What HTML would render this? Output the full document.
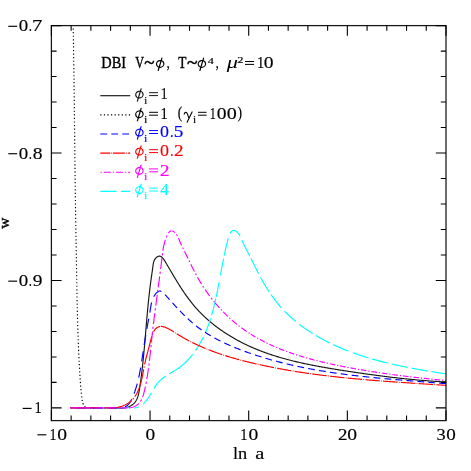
<!DOCTYPE html>
<html lang="en"><head><meta charset="utf-8"><title>w vs ln a</title>
<style>html,body{margin:0;padding:0;background:#fff}svg{display:block;will-change:transform}text{font-family:"Liberation Serif",serif}</style></head>
<body>
<svg width="471" height="471" viewBox="0 0 471 471">
<rect width="471" height="471" fill="#fff"/>
<defs><clipPath id="c"><rect x="51.40" y="25.60" width="394.60" height="395.00"/></clipPath></defs>
<g clip-path="url(#c)" fill="none" stroke-width="1.15" stroke-linejoin="round">
<path d="M70.30 407.90 L118.00 407.82 L118.92 407.99 L119.87 408.10 L120.83 408.16 L121.81 408.17 L122.79 408.13 L123.77 408.03 L124.76 407.89 L125.73 407.69 L126.70 407.45 L127.65 407.16 L128.58 406.82 L129.49 406.44 L130.37 406.01 L131.21 405.54 L132.02 405.03 L132.78 404.47 L133.49 403.87 L134.16 403.23 L134.77 402.55 L135.32 401.83 L135.83 401.08 L136.30 400.29 L136.72 399.48 L137.10 398.64 L137.45 397.77 L137.76 396.88 L138.05 395.97 L138.30 395.04 L138.53 394.10 L138.75 393.14 L138.94 392.17 L139.12 391.20 L139.29 390.22 L139.45 389.24 L139.60 388.25 L139.76 387.27 L139.91 386.29 L140.05 385.31 L140.20 384.33 L140.34 383.35 L140.48 382.38 L140.62 381.40 L140.75 380.43 L140.88 379.46 L141.01 378.49 L141.14 377.52 L141.27 376.55 L141.39 375.59 L141.52 374.62 L141.64 373.66 L141.76 372.69 L141.87 371.73 L141.99 370.77 L142.10 369.81 L142.21 368.85 L142.32 367.89 L142.43 366.93 L142.54 365.97 L142.64 365.01 L142.75 364.06 L142.85 363.10 L142.95 362.15 L143.05 361.19 L143.15 360.24 L143.24 359.28 L143.34 358.33 L143.43 357.38 L143.53 356.42 L143.62 355.47 L143.71 354.52 L143.80 353.56 L143.89 352.61 L143.98 351.66 L144.07 350.71 L144.15 349.76 L144.24 348.80 L144.33 347.85 L144.41 346.90 L144.50 345.95 L144.58 344.99 L144.66 344.04 L144.75 343.09 L144.83 342.13 L144.91 341.18 L144.99 340.23 L145.07 339.27 L145.15 338.32 L145.23 337.36 L145.31 336.40 L145.39 335.45 L145.48 334.49 L145.56 333.53 L145.64 332.57 L145.72 331.61 L145.80 330.65 L145.88 329.69 L145.96 328.73 L146.04 327.77 L146.12 326.80 L146.20 325.84 L146.29 324.87 L146.37 323.91 L146.45 322.94 L146.53 321.97 L146.62 321.00 L146.70 320.04 L146.79 319.07 L146.87 318.10 L146.96 317.13 L147.04 316.16 L147.13 315.19 L147.22 314.22 L147.31 313.25 L147.40 312.28 L147.49 311.31 L147.58 310.34 L147.67 309.37 L147.76 308.40 L147.85 307.43 L147.95 306.46 L148.04 305.49 L148.14 304.53 L148.23 303.56 L148.33 302.59 L148.43 301.63 L148.53 300.66 L148.63 299.70 L148.73 298.73 L148.83 297.77 L148.94 296.81 L149.04 295.85 L149.15 294.89 L149.26 293.93 L149.36 292.97 L149.47 292.02 L149.58 291.06 L149.70 290.11 L149.81 289.16 L149.93 288.21 L150.04 287.26 L150.16 286.31 L150.28 285.37 L150.40 284.42 L150.52 283.48 L150.65 282.54 L150.77 281.61 L150.90 280.67 L151.03 279.74 L151.16 278.81 L151.29 277.88 L151.42 276.95 L151.56 276.02 L151.69 275.09 L151.83 274.15 L151.97 273.21 L152.10 272.26 L152.24 271.30 L152.38 270.33 L152.51 269.34 L152.65 268.34 L152.78 267.32 L152.91 266.29 L153.05 265.24 L153.21 264.19 L153.40 263.16 L153.64 262.15 L153.94 261.17 L154.31 260.24 L154.77 259.37 L155.33 258.57 L155.96 257.86 L156.65 257.25 L157.38 256.75 L158.12 256.40 L158.87 256.19 L159.59 256.14 L160.28 256.27 L160.94 256.54 L161.57 256.94 L162.18 257.46 L162.77 258.09 L163.34 258.80 L163.90 259.57 L164.44 260.40 L164.98 261.27 L165.51 262.15 L166.04 263.04 L166.56 263.92 L167.08 264.81 L167.60 265.69 L168.12 266.57 L168.63 267.45 L169.15 268.32 L169.66 269.19 L170.17 270.06 L170.68 270.93 L171.19 271.80 L171.70 272.66 L172.21 273.52 L172.72 274.37 L173.23 275.23 L173.74 276.08 L174.24 276.93 L174.75 277.78 L175.26 278.62 L175.77 279.46 L176.28 280.30 L176.79 281.13 L177.30 281.96 L177.81 282.79 L178.32 283.62 L178.84 284.44 L179.35 285.26 L179.87 286.08 L180.39 286.89 L180.91 287.70 L181.43 288.51 L181.96 289.31 L182.49 290.11 L183.02 290.91 L183.55 291.71 L184.09 292.50 L184.63 293.28 L185.17 294.07 L185.71 294.85 L186.26 295.63 L186.81 296.40 L187.37 297.17 L187.93 297.94 L188.49 298.70 L189.06 299.46 L189.63 300.21 L190.21 300.97 L190.79 301.71 L191.38 302.46 L191.97 303.20 L192.56 303.94 L193.17 304.67 L193.77 305.40 L194.38 306.12 L195.00 306.84 L195.63 307.56 L196.26 308.27 L196.89 308.98 L197.53 309.69 L198.18 310.39 L198.84 311.09 L199.50 311.78 L200.16 312.47 L200.83 313.15 L201.51 313.83 L202.19 314.51 L202.88 315.18 L203.58 315.85 L204.27 316.51 L204.98 317.17 L205.69 317.82 L206.40 318.47 L207.12 319.12 L207.85 319.76 L208.58 320.40 L209.31 321.03 L210.05 321.66 L210.79 322.28 L211.54 322.90 L212.29 323.51 L213.05 324.12 L213.81 324.73 L214.58 325.33 L215.35 325.93 L216.12 326.52 L216.90 327.11 L217.68 327.69 L218.46 328.27 L219.25 328.84 L220.04 329.41 L220.84 329.97 L221.64 330.53 L222.44 331.08 L223.24 331.63 L224.05 332.18 L224.86 332.72 L225.68 333.25 L226.50 333.78 L227.32 334.30 L228.14 334.82 L228.97 335.34 L229.79 335.85 L230.62 336.35 L231.46 336.85 L232.29 337.35 L233.13 337.84 L233.97 338.32 L234.81 338.80 L235.65 339.28 L236.50 339.75 L237.35 340.21 L238.20 340.67 L239.05 341.13 L239.90 341.58 L240.76 342.02 L241.62 342.46 L242.48 342.90 L243.34 343.33 L244.20 343.76 L245.07 344.18 L245.93 344.60 L246.80 345.01 L247.67 345.42 L248.54 345.82 L249.42 346.22 L250.29 346.62 L251.17 347.01 L252.05 347.40 L252.93 347.78 L253.82 348.16 L254.70 348.53 L255.59 348.90 L256.47 349.27 L257.36 349.63 L258.25 349.99 L259.15 350.34 L260.04 350.69 L260.94 351.04 L261.83 351.38 L262.73 351.72 L263.63 352.05 L264.53 352.38 L265.43 352.71 L266.34 353.03 L267.24 353.35 L268.15 353.67 L269.06 353.98 L269.97 354.29 L270.88 354.59 L271.79 354.89 L272.71 355.19 L273.62 355.49 L274.54 355.78 L275.45 356.07 L276.37 356.35 L277.29 356.63 L278.21 356.91 L279.13 357.19 L280.06 357.46 L280.98 357.73 L281.91 358.00 L282.83 358.26 L283.76 358.52 L284.69 358.78 L285.62 359.03 L286.55 359.28 L287.48 359.53 L288.41 359.78 L289.35 360.02 L290.28 360.26 L291.21 360.50 L292.15 360.73 L293.09 360.96 L294.03 361.19 L294.96 361.42 L295.90 361.65 L296.84 361.87 L297.78 362.09 L298.73 362.31 L299.67 362.52 L300.61 362.74 L301.56 362.95 L302.50 363.16 L303.45 363.36 L304.39 363.57 L305.34 363.77 L306.29 363.97 L307.23 364.17 L308.18 364.36 L309.13 364.56 L310.08 364.75 L311.03 364.94 L311.98 365.13 L312.93 365.32 L313.88 365.50 L314.83 365.68 L315.79 365.87 L316.74 366.05 L317.69 366.22 L318.64 366.40 L319.60 366.58 L320.55 366.75 L321.51 366.92 L322.46 367.09 L323.42 367.26 L324.37 367.43 L325.33 367.60 L326.28 367.76 L327.24 367.93 L328.19 368.09 L329.15 368.25 L330.11 368.41 L331.06 368.57 L332.02 368.73 L332.97 368.89 L333.93 369.05 L334.89 369.20 L335.84 369.36 L336.80 369.51 L337.76 369.66 L338.71 369.82 L339.67 369.97 L340.63 370.12 L341.58 370.27 L342.54 370.42 L343.50 370.57 L344.45 370.72 L345.41 370.87 L346.36 371.01 L347.32 371.16 L348.27 371.31 L349.23 371.45 L350.19 371.60 L351.14 371.74 L352.09 371.89 L353.05 372.03 L354.00 372.18 L354.96 372.32 L355.91 372.46 L356.87 372.60 L357.82 372.74 L358.78 372.88 L359.73 373.02 L360.68 373.16 L361.64 373.30 L362.59 373.44 L363.54 373.58 L364.50 373.71 L365.45 373.85 L366.41 373.99 L367.36 374.12 L368.31 374.25 L369.27 374.39 L370.22 374.52 L371.17 374.65 L372.13 374.78 L373.08 374.91 L374.03 375.04 L374.99 375.17 L375.94 375.30 L376.89 375.43 L377.85 375.55 L378.80 375.68 L379.76 375.80 L380.71 375.93 L381.66 376.05 L382.62 376.17 L383.57 376.29 L384.52 376.42 L385.48 376.54 L386.43 376.65 L387.39 376.77 L388.34 376.89 L389.30 377.01 L390.25 377.12 L391.21 377.24 L392.16 377.35 L393.12 377.46 L394.07 377.57 L395.03 377.68 L395.98 377.79 L396.94 377.90 L397.89 378.01 L398.85 378.12 L399.80 378.22 L400.76 378.33 L401.72 378.43 L402.67 378.54 L403.63 378.64 L404.59 378.74 L405.55 378.84 L406.50 378.94 L407.46 379.03 L408.42 379.13 L409.38 379.23 L410.34 379.32 L411.29 379.41 L412.25 379.51 L413.21 379.60 L414.17 379.69 L415.13 379.78 L416.09 379.86 L417.05 379.95 L418.01 380.04 L418.97 380.12 L419.93 380.20 L420.90 380.28 L421.86 380.36 L422.82 380.44 L423.78 380.52 L424.75 380.60 L425.71 380.67 L426.67 380.75 L427.64 380.82 L428.60 380.89 L429.57 380.96 L430.53 381.03 L431.50 381.10 L432.46 381.17 L433.43 381.23 L434.40 381.30 L435.36 381.36 L436.33 381.42 L437.30 381.48 L438.27 381.54 L439.23 381.60 L440.20 381.66 L441.17 381.71 L442.14 381.76 L443.11 381.81 L444.09 381.87 L445.06 381.91 L446.03 381.96" stroke="#161616"/>
<path d="M73.20 25.00 C73.33 34.17 73.75 60.83 74.00 80.00 C74.25 99.17 74.47 120.00 74.70 140.00 C74.93 160.00 75.12 180.00 75.40 200.00 C75.68 220.00 76.08 241.67 76.40 260.00 C76.72 278.33 77.00 296.67 77.30 310.00 C77.60 323.33 77.93 332.18 78.20 340.00 C78.47 347.82 78.68 352.28 78.90 356.90 C79.12 361.52 79.30 364.20 79.50 367.70 C79.70 371.20 79.87 374.38 80.10 377.90 C80.33 381.42 80.58 385.28 80.90 388.80 C81.22 392.32 81.65 396.55 82.00 399.00 C82.35 401.45 82.62 402.35 83.00 403.50 C83.38 404.65 83.87 405.28 84.30 405.90 C84.73 406.52 84.98 406.87 85.60 407.20 C86.22 407.53 82.60 407.78 88.00 407.90 C93.40 408.02 113.00 407.90 118.00 407.90" stroke="#000" stroke-dasharray="1.2 2.37"/>
<path d="M72.70 407.89 L89.00 407.84M93.20 407.82 L109.50 407.77M113.70 407.75 L129.83 407.70 L130.00 407.72M134.20 407.95 L135.03 407.86 L135.97 407.70 L136.87 407.48 L137.75 407.21 L138.60 406.88 L138.70 406.84M143.10 403.99 L143.12 403.98 L143.79 403.36 L144.44 402.71 L145.07 402.03 L145.68 401.33 L146.27 400.61 L146.84 399.87 L147.40 399.11 L147.94 398.33 L148.47 397.54 L148.99 396.75 L149.49 395.94 L149.99 395.12 L150.49 394.30 L150.98 393.47 L151.40 392.74M153.90 388.50 L153.90 388.50 L154.41 387.68 L154.92 386.88 L155.44 386.09 L155.97 385.31 L156.52 384.54 L157.08 383.79 L157.66 383.05 L158.26 382.34 L158.88 381.65 L159.52 380.97 L160.18 380.33 L160.87 379.70 L161.57 379.10 L162.29 378.51 L163.03 377.94 L163.79 377.38 L164.56 376.84 L165.34 376.32 L165.80 376.02M169.20 373.92 L169.39 373.81 L170.22 373.32 L171.05 372.84 L171.88 372.35 L172.71 371.86 L173.54 371.37 L174.37 370.88 L175.19 370.37 L176.00 369.86 L176.81 369.34 L177.60 368.81 L178.39 368.26 L179.16 367.71 L179.93 367.14 L180.69 366.56 L181.43 365.97 L182.17 365.36 L182.89 364.75 L183.61 364.13 L184.31 363.49 L185.01 362.85 L185.70 362.20 L186.37 361.53 L187.04 360.86 L187.70 360.18 L188.35 359.49 L188.99 358.80 L189.62 358.09 L190.24 357.38 L190.85 356.66 L191.45 355.93 L192.04 355.20 L192.63 354.46 L192.80 354.23M195.60 350.40 L195.95 349.89 L196.48 349.11 L196.99 348.33 L197.50 347.54 L198.00 346.75 L198.49 345.95 L198.98 345.15 L199.45 344.34 L199.92 343.53 L200.38 342.72 L200.83 341.90 L201.28 341.07 L201.72 340.25 L202.15 339.42 L202.57 338.58 L202.99 337.74 L203.40 336.90 L203.50 336.69M205.40 332.52 L205.72 331.77 L206.09 330.90 L206.44 330.03 L206.80 329.16 L207.14 328.28 L207.48 327.40 L207.82 326.52 L208.15 325.64 L208.47 324.75 L208.79 323.86 L209.10 322.97 L209.41 322.07 L209.71 321.17 L210.01 320.27 L210.30 319.37 L210.59 318.47 L210.60 318.44M211.60 315.15 L211.70 314.83 L211.96 313.91 L212.22 313.00 L212.48 312.08 L212.73 311.16 L212.98 310.24 L213.22 309.32 L213.47 308.40 L213.70 307.47 L213.94 306.54 L214.17 305.62 L214.39 304.69 L214.62 303.76 L214.84 302.83 L215.06 301.90 L215.27 300.97 L215.48 300.03 L215.69 299.10 L215.80 298.61M216.20 296.77 L216.30 296.30 L216.50 295.36 L216.70 294.43 L216.89 293.49 L217.08 292.56 L217.27 291.62 L217.46 290.69 L217.65 289.75 L217.83 288.82 L218.02 287.88 L218.20 286.95 L218.38 286.01 L218.56 285.08 L218.74 284.14 L218.91 283.21 L219.09 282.28 L219.10 282.22M220.40 275.24 L220.47 274.86 L220.64 273.94 L220.81 273.02 L220.98 272.10 L221.16 271.18 L221.33 270.26 L221.50 269.34 L221.67 268.43 L221.85 267.51 L222.02 266.60 L222.20 265.68 L222.37 264.77 L222.55 263.85 L222.73 262.94 L222.91 262.03 L223.09 261.11 L223.27 260.19 L223.46 259.28 L223.60 258.56M224.20 255.65 L224.21 255.60 L224.40 254.68 L224.60 253.76 L224.80 252.83 L225.00 251.91 L225.20 250.98 L225.41 250.05 L225.62 249.12 L225.83 248.18 L226.05 247.25 L226.26 246.31 L226.49 245.37 L226.71 244.42 L226.94 243.47 L227.17 242.52 L227.41 241.57 L227.65 240.61 L227.89 239.65 L228.14 238.69 L228.30 238.07M229.90 233.62 L230.11 233.23 L230.61 232.47 L231.19 231.78 L231.84 231.19 L232.55 230.75 L233.29 230.50 L234.07 230.47 L234.86 230.67 L235.65 231.05 L236.41 231.57 L237.13 232.18 L237.80 232.84 L238.41 233.56 L238.98 234.32 L239.50 235.11 L239.99 235.94 L240.10 236.14M242.00 240.19 L242.09 240.40 L242.48 241.31 L242.87 242.22 L243.26 243.11 L243.66 244.00 L244.07 244.87 L244.48 245.73 L244.90 246.59 L245.32 247.44 L245.74 248.28 L246.17 249.12 L246.60 249.95 L247.03 250.78 L247.46 251.61 L247.89 252.43 L248.32 253.26 L248.75 254.08 L249.18 254.91 L249.60 255.74 L249.70 255.94M251.00 258.52 L251.28 259.08 L251.69 259.92 L252.10 260.76 L252.52 261.60 L252.93 262.44 L253.34 263.28 L253.76 264.12 L254.17 264.97 L254.59 265.81 L255.00 266.65 L255.42 267.50 L255.84 268.34 L256.26 269.19 L256.68 270.03 L257.10 270.87 L257.53 271.72 L257.96 272.56 L258.39 273.40 L258.60 273.79M260.50 277.38 L260.61 277.58 L261.07 278.41 L261.52 279.24 L261.99 280.07 L262.45 280.90 L262.92 281.73 L263.39 282.55 L263.87 283.37 L264.35 284.19 L264.84 285.01 L265.33 285.82 L265.82 286.63 L266.32 287.44 L266.82 288.25 L267.33 289.05 L267.84 289.85 L268.36 290.65 L268.88 291.44 L269.10 291.78M271.00 294.59 L271.00 294.59 L271.54 295.37 L272.09 296.14 L272.64 296.91 L273.20 297.68 L273.76 298.44 L274.33 299.20 L274.90 299.96 L275.48 300.71 L276.06 301.45 L276.65 302.20 L277.24 302.93 L277.84 303.67 L278.44 304.40 L279.05 305.12 L279.66 305.84 L280.28 306.55 L280.90 307.26 L281.50 307.93M284.40 311.04 L284.76 311.41 L285.42 312.09 L286.09 312.75 L286.76 313.42 L287.44 314.08 L288.12 314.73 L288.80 315.38 L289.49 316.02 L290.19 316.66 L290.89 317.30 L291.59 317.93 L292.30 318.55 L293.01 319.17 L293.73 319.79 L294.45 320.40 L295.18 321.00 L295.90 321.60M299.30 324.29 L299.61 324.53 L300.36 325.11 L301.12 325.68 L301.88 326.24 L302.64 326.80 L303.41 327.35 L304.18 327.90 L304.95 328.45 L305.73 328.99 L306.50 329.52 L307.29 330.05 L308.07 330.58 L308.86 331.10 L309.65 331.62 L310.44 332.13 L311.23 332.64 L312.03 333.15 L312.70 333.57M315.90 335.51 L316.06 335.61 L316.87 336.09 L317.68 336.56 L318.50 337.03 L319.32 337.50 L320.14 337.96 L320.96 338.42 L321.79 338.88 L322.62 339.33 L323.45 339.77 L324.28 340.22 L325.11 340.65 L325.95 341.09 L326.79 341.52 L327.63 341.95 L328.47 342.37 L329.31 342.79 L330.00 343.12M333.10 344.61 L333.57 344.82 L334.42 345.22 L335.28 345.61 L336.14 346.00 L337.00 346.39 L337.86 346.77 L338.73 347.15 L339.59 347.52 L340.46 347.89 L341.33 348.26 L342.20 348.63 L343.08 348.99 L343.95 349.35 L344.83 349.70 L345.71 350.05 L346.59 350.40 L347.47 350.74 L348.35 351.08 L348.50 351.14M352.90 352.78 L353.67 353.06 L354.57 353.38 L355.46 353.70 L356.36 354.01 L357.25 354.32 L358.15 354.62 L359.05 354.93 L359.95 355.23 L360.85 355.53 L361.75 355.82 L362.66 356.11 L363.56 356.40 L364.47 356.69 L365.37 356.97 L366.28 357.25 L367.19 357.53 L368.10 357.81 L368.40 357.90M372.10 358.98 L372.67 359.14 L373.58 359.40 L374.50 359.66 L375.41 359.92 L376.33 360.17 L377.25 360.42 L378.17 360.67 L379.09 360.91 L380.01 361.15 L380.94 361.39 L381.86 361.63 L382.78 361.87 L383.70 362.10 L384.63 362.33 L385.55 362.56 L386.48 362.79 L387.41 363.01 L388.20 363.20M391.90 364.07 L392.05 364.10 L392.97 364.31 L393.90 364.52 L394.83 364.73 L395.76 364.94 L396.69 365.14 L397.63 365.34 L398.56 365.54 L399.49 365.74 L400.42 365.94 L401.35 366.13 L402.28 366.33 L403.22 366.52 L404.15 366.71 L405.08 366.90 L406.01 367.08 L406.95 367.27 L407.80 367.44M411.60 368.17 L411.61 368.17 L412.54 368.35 L413.47 368.52 L414.41 368.69 L415.34 368.86 L416.27 369.03 L417.20 369.20 L418.14 369.37 L419.07 369.54 L420.00 369.70 L420.93 369.86 L421.86 370.03 L422.79 370.19 L423.72 370.35 L424.65 370.51 L425.58 370.67 L426.51 370.82 L427.44 370.98 L428.10 371.09M431.40 371.63 L432.08 371.74 L433.00 371.89 L433.93 372.04 L434.85 372.19 L435.78 372.33 L436.70 372.48 L437.63 372.63 L438.55 372.77 L439.47 372.92 L440.39 373.06 L441.31 373.20 L442.23 373.34 L443.15 373.49 L444.07 373.63 L444.98 373.77 L445.90 373.91 L445.90 373.91" stroke="#00ffff"/>
<path d="M70.30 407.90 L114.97 407.86 L115.74 407.82 L116.56 407.79 L117.42 407.76 L118.31 407.73 L119.22 407.68 L120.14 407.62 L121.06 407.53 L121.98 407.42 L122.89 407.26 L123.76 407.06 L124.61 406.81 L125.41 406.51 L126.16 406.14 L126.86 405.71 L127.51 405.22 L128.12 404.68 L128.68 404.09 L129.20 403.46 L129.69 402.80 L130.15 402.10 L130.58 401.37 L130.99 400.62 L131.38 399.85 L131.75 399.07 L132.11 398.28 L132.46 397.49 L132.80 396.70 L133.13 395.90 L133.46 395.10 L133.77 394.30 L134.08 393.50 L134.38 392.69 L134.68 391.89 L134.96 391.08 L135.24 390.27 L135.51 389.45 L135.77 388.64 L136.03 387.82 L136.28 387.01 L136.53 386.19 L136.77 385.36 L137.00 384.54 L137.22 383.72 L137.44 382.89 L137.66 382.06 L137.87 381.23 L138.07 380.40 L138.27 379.57 L138.47 378.74 L138.66 377.90 L138.84 377.07 L139.02 376.23 L139.20 375.39 L139.37 374.55 L139.54 373.71 L139.70 372.87 L139.86 372.03 L140.02 371.18 L140.18 370.34 L140.33 369.50 L140.48 368.65 L140.62 367.80 L140.77 366.96 L140.91 366.11 L141.05 365.26 L141.18 364.41 L141.32 363.57 L141.45 362.72 L141.59 361.87 L141.72 361.02 L141.85 360.17 L141.97 359.32 L142.10 358.47 L142.23 357.62 L142.36 356.77 L142.48 355.92 L142.61 355.06 L142.73 354.21 L142.86 353.36 L142.99 352.51 L143.11 351.66 L143.24 350.81 L143.37 349.96 L143.50 349.11 L143.63 348.27 L143.76 347.42 L143.90 346.57 L144.03 345.72 L144.17 344.87 L144.30 344.03 L144.44 343.18 L144.58 342.33 L144.71 341.49 L144.85 340.64 L144.99 339.80 L145.13 338.95 L145.28 338.11 L145.42 337.26 L145.56 336.42 L145.71 335.58 L145.85 334.73 L146.00 333.89 L146.14 333.05 L146.29 332.21 L146.44 331.36 L146.58 330.52 L146.73 329.68 L146.88 328.84 L147.03 328.00 L147.18 327.16 L147.33 326.32 L147.48 325.48 L147.64 324.64 L147.79 323.81 L147.94 322.97 L148.09 322.13 L148.25 321.29 L148.40 320.46 L148.56 319.62 L148.71 318.78 L148.86 317.95 L149.01 317.11 L149.17 316.27 L149.32 315.43 L149.47 314.59 L149.61 313.75 L149.76 312.91 L149.90 312.07 L150.05 311.22 L150.19 310.38 L150.32 309.53 L150.46 308.68 L150.59 307.83 L150.73 306.97 L150.87 306.12 L151.01 305.27 L151.18 304.41 L151.35 303.56 L151.54 302.71 L151.76 301.86 L152.00 301.02 L152.27 300.18 L152.56 299.34 L152.90 298.51 L153.26 297.68 L153.67 296.86 L154.13 296.04 L154.63 295.24 L155.16 294.46 L155.74 293.72 L156.34 293.04 L156.96 292.43 L157.60 291.91 L158.24 291.49 L158.90 291.20 L159.55 291.04 L160.19 291.03 L160.82 291.16 L161.44 291.42" stroke="#0000ff" stroke-dasharray="10.3 6.2" stroke-dashoffset="11.2"/>
<path d="M162.06 291.78 L162.68 292.24 L163.28 292.77 L163.88 293.36 L164.48 293.99 L165.08 294.64 L165.68 295.31 L166.27 295.97 L166.86 296.63 L167.46 297.29 L168.05 297.95 L168.64 298.61 L169.23 299.27 L169.82 299.93 L170.41 300.59 L171.00 301.24 L171.59 301.89 L172.18 302.54 L172.77 303.19 L173.36 303.84 L173.95 304.49 L174.54 305.13 L175.13 305.78 L175.72 306.42 L176.32 307.06 L176.91 307.69 L177.50 308.33 L178.10 308.96 L178.69 309.59 L179.29 310.22 L179.88 310.84 L180.48 311.46 L181.08 312.08 L181.69 312.70 L182.29 313.31 L182.89 313.92 L183.50 314.53 L184.11 315.14 L184.72 315.74 L185.33 316.33 L185.95 316.93 L186.56 317.52 L187.18 318.11 L187.81 318.69 L188.43 319.27 L189.06 319.85 L189.69 320.42 L190.32 320.99 L190.95 321.55 L191.59 322.11 L192.23 322.67 L192.88 323.22 L193.53 323.76 L194.18 324.31 L194.83 324.84 L195.49 325.38 L196.15 325.91 L196.82 326.43 L197.49 326.95 L198.16 327.46 L198.84 327.97 L199.52 328.48 L200.21 328.97 L200.90 329.47 L201.59 329.96 L202.28 330.44 L202.98 330.93 L203.69 331.40 L204.39 331.87 L205.10 332.34 L205.82 332.80 L206.53 333.26 L207.25 333.72 L207.97 334.17 L208.70 334.61 L209.43 335.05 L210.16 335.49 L210.89 335.92 L211.63 336.35 L212.37 336.78 L213.11 337.20 L213.86 337.61 L214.61 338.03 L215.36 338.44 L216.11 338.84 L216.87 339.24 L217.62 339.64 L218.39 340.04 L219.15 340.43 L219.91 340.81 L220.68 341.20 L221.45 341.58 L222.22 341.95 L223.00 342.33 L223.77 342.70 L224.55 343.06 L225.33 343.43 L226.11 343.78 L226.89 344.14 L227.68 344.49 L228.47 344.85 L229.25 345.19 L230.04 345.54 L230.84 345.88 L231.63 346.22 L232.42 346.55 L233.22 346.88 L234.02 347.21 L234.81 347.54 L235.61 347.86 L236.41 348.19 L237.22 348.51 L238.02 348.82 L238.82 349.14 L239.63 349.45 L240.43 349.76 L241.24 350.06 L242.05 350.37 L242.86 350.67 L243.67 350.97 L244.48 351.26 L245.29 351.56 L246.10 351.85 L246.91 352.14 L247.72 352.43 L248.53 352.72 L249.34 353.00 L250.16 353.28 L250.97 353.56 L251.78 353.84 L252.60 354.12 L253.41 354.39 L254.23 354.67 L255.04 354.94 L255.86 355.20 L256.68 355.47 L257.49 355.73 L258.31 356.00 L259.13 356.26 L259.95 356.51 L260.77 356.77 L261.59 357.02 L262.41 357.28 L263.23 357.53 L264.05 357.78 L264.87 358.02 L265.69 358.27 L266.51 358.51 L267.33 358.75 L268.16 358.99 L268.98 359.23 L269.80 359.46 L270.63 359.70 L271.45 359.93 L272.28 360.16 L273.10 360.39 L273.93 360.61 L274.75 360.84 L275.58 361.06 L276.41 361.28 L277.23 361.50 L278.06 361.72 L278.89 361.93 L279.72 362.15 L280.55 362.36 L281.38 362.57 L282.21 362.78 L283.04 362.99 L283.87 363.19 L284.70 363.40 L285.53 363.60 L286.36 363.80 L287.19 364.00 L288.02 364.20 L288.85 364.39 L289.69 364.59 L290.52 364.78 L291.35 364.97 L292.19 365.16 L293.02 365.35 L293.85 365.54 L294.69 365.72 L295.52 365.90 L296.36 366.09 L297.20 366.27 L298.03 366.45 L298.87 366.62 L299.70 366.80 L300.54 366.97 L301.38 367.15 L302.22 367.32 L303.05 367.49 L303.89 367.66 L304.73 367.82 L305.57 367.99 L306.41 368.15 L307.25 368.32 L308.09 368.48 L308.93 368.64 L309.77 368.80 L310.61 368.96 L311.45 369.11 L312.29 369.27 L313.13 369.42 L313.97 369.57 L314.81 369.72 L315.66 369.87 L316.50 370.02 L317.34 370.17 L318.18 370.31 L319.03 370.46 L319.87 370.60 L320.71 370.74 L321.56 370.89 L322.40 371.03 L323.25 371.16 L324.09 371.30 L324.93 371.44 L325.78 371.57 L326.62 371.71 L327.47 371.84 L328.32 371.97 L329.16 372.10 L330.01 372.23 L330.85 372.36 L331.70 372.49 L332.55 372.61 L333.39 372.74 L334.24 372.86 L335.09 372.98 L335.94 373.11 L336.78 373.23 L337.63 373.35 L338.48 373.46 L339.33 373.58 L340.18 373.70 L341.03 373.81 L341.88 373.93 L342.72 374.04 L343.57 374.16 L344.42 374.27 L345.27 374.38 L346.12 374.49 L346.97 374.60 L347.82 374.71 L348.67 374.81 L349.52 374.92 L350.37 375.02 L351.22 375.13 L352.08 375.23 L352.93 375.34 L353.78 375.44 L354.63 375.54 L355.48 375.64 L356.33 375.74 L357.18 375.84 L358.04 375.94 L358.89 376.03 L359.74 376.13 L360.59 376.22 L361.44 376.32 L362.30 376.41 L363.15 376.51 L364.00 376.60 L364.86 376.69 L365.71 376.78 L366.56 376.87 L367.41 376.96 L368.27 377.05 L369.12 377.14 L369.97 377.23 L370.83 377.32 L371.68 377.40 L372.54 377.49 L373.39 377.58 L374.24 377.66 L375.10 377.74 L375.95 377.83 L376.81 377.91 L377.66 377.99 L378.51 378.08 L379.37 378.16 L380.22 378.24 L381.08 378.32 L381.93 378.40 L382.79 378.48 L383.64 378.56 L384.49 378.64 L385.35 378.71 L386.20 378.79 L387.06 378.87 L387.91 378.94 L388.77 379.02 L389.62 379.10 L390.48 379.17 L391.33 379.25 L392.19 379.32 L393.04 379.40 L393.90 379.47 L394.75 379.54 L395.61 379.62 L396.46 379.69 L397.32 379.76 L398.17 379.83 L399.03 379.90 L399.88 379.98 L400.74 380.05 L401.59 380.12 L402.45 380.19 L403.30 380.26 L404.16 380.33 L405.01 380.40 L405.87 380.47 L406.72 380.54 L407.58 380.61 L408.43 380.68 L409.29 380.75 L410.14 380.81 L411.00 380.88 L411.85 380.95 L412.71 381.02 L413.56 381.09 L414.42 381.16 L415.27 381.22 L416.13 381.29 L416.98 381.36 L417.84 381.43 L418.69 381.49 L419.54 381.56 L420.40 381.63 L421.25 381.70 L422.11 381.76 L422.96 381.83 L423.82 381.90 L424.67 381.96 L425.52 382.03 L426.38 382.10 L427.23 382.17 L428.08 382.23 L428.94 382.30 L429.79 382.37 L430.64 382.43 L431.50 382.50 L432.35 382.57 L433.20 382.64 L434.06 382.70 L434.91 382.77 L435.76 382.84 L436.62 382.91 L437.47 382.98 L438.32 383.05 L439.17 383.11 L440.02 383.18 L440.88 383.25 L441.73 383.32 L442.58 383.39 L443.43 383.46 L444.28 383.53 L445.13 383.60 L445.99 383.67" stroke="#0000ff" stroke-dasharray="6.8 4.2" stroke-dashoffset="6.8"/>
<path d="M70.30 407.90 L107.99 407.73 L108.74 407.82 L109.51 407.89 L110.28 407.93 L111.05 407.95 L111.83 407.96 L112.61 407.94 L113.39 407.90 L114.18 407.84 L114.96 407.76 L115.74 407.67 L116.53 407.55 L117.31 407.41 L118.09 407.25 L118.86 407.08 L119.63 406.88 L120.39 406.67 L121.15 406.44 L121.90 406.19 L122.64 405.92 L123.38 405.63 L124.10 405.32 L124.81 405.00 L125.51 404.66 L126.20 404.30 L126.87 403.93 L127.53 403.53 L128.18 403.12 L128.81 402.70 L129.42 402.25 L130.01 401.79 L130.59 401.32 L131.15 400.82 L131.69 400.32 L132.21 399.79 L132.72 399.26 L133.20 398.70 L133.68 398.14 L134.13 397.56 L134.57 396.97 L135.00 396.36 L135.41 395.75 L135.81 395.12 L136.19 394.48 L136.56 393.82 L136.92 393.16 L137.26 392.49 L137.59 391.81 L137.91 391.12 L138.22 390.41 L138.52 389.71 L138.81 388.99 L139.08 388.26 L139.35 387.53 L139.61 386.79 L139.86 386.04 L140.09 385.29 L140.33 384.53 L140.55 383.77 L140.76 383.00 L140.97 382.23 L141.17 381.45 L141.37 380.67 L141.56 379.89 L141.74 379.10 L141.92 378.31 L142.09 377.52 L142.26 376.73 L142.43 375.93 L142.59 375.14 L142.75 374.34 L142.91 373.54 L143.06 372.75 L143.21 371.95 L143.36 371.16 L143.51 370.37 L143.66 369.58 L143.81 368.79 L143.96 368.00 L144.10 367.22 L144.25 366.45 L144.40 365.67 L144.56 364.90 L144.71 364.14 L144.87 363.38 L145.03 362.62 L145.19 361.87 L145.35 361.13 L145.52 360.40 L145.69 359.66 L145.87 358.94 L146.05 358.21 L146.23 357.49 L146.41 356.77 L146.59 356.06 L146.78 355.35 L146.97 354.63 L147.16 353.92 L147.35 353.21 L147.54 352.50 L147.73 351.78 L147.93 351.07 L148.12 350.35 L148.32 349.63 L148.52 348.91 L148.72 348.18 L148.91 347.45 L149.11 346.71 L149.31 345.97 L149.51 345.22 L149.71 344.47 L149.90 343.71 L150.10 342.94 L150.29 342.16 L150.49 341.38 L150.68 340.59 L150.88 339.79 L151.07 338.98 L151.28 338.17 L151.49 337.37 L151.71 336.57 L151.94 335.78 L152.19 335.00 L152.46 334.23 L152.74 333.48 L153.05 332.75 L153.38 332.05 L153.74 331.37 L154.13 330.71 L154.56 330.09 L155.01 329.51 L155.51 328.96 L156.04 328.45 L156.61 327.99 L157.23 327.57 L157.88 327.21 L158.56 326.91 L159.26 326.67 L159.98 326.51" stroke="#ff0000" stroke-dasharray="29 1.8 1.4 1.8" stroke-dashoffset="0.0"/>
<path d="M160.71 326.43 L161.45 326.43 L162.20 326.51 L162.94 326.64 L163.69 326.83 L164.43 327.06 L165.17 327.33 L165.90 327.61 L166.62 327.92 L167.33 328.24 L168.03 328.57 L168.73 328.92 L169.42 329.29 L170.10 329.66 L170.78 330.05 L171.45 330.44 L172.12 330.84 L172.79 331.25 L173.45 331.66 L174.12 332.08 L174.78 332.50 L175.44 332.92 L176.10 333.34 L176.76 333.76 L177.42 334.18 L178.08 334.59 L178.75 335.00 L179.42 335.40 L180.08 335.81 L180.75 336.21 L181.42 336.60 L182.10 337.00 L182.77 337.39 L183.45 337.77 L184.12 338.16 L184.80 338.54 L185.48 338.91 L186.16 339.29 L186.84 339.66 L187.53 340.03 L188.21 340.39 L188.90 340.75 L189.59 341.11 L190.28 341.47 L190.97 341.82 L191.66 342.17 L192.35 342.52 L193.05 342.86 L193.74 343.20 L194.44 343.54 L195.14 343.87 L195.83 344.21 L196.53 344.54 L197.24 344.86 L197.94 345.19 L198.64 345.51 L199.35 345.83 L200.05 346.14 L200.76 346.46 L201.47 346.77 L202.18 347.08 L202.89 347.38 L203.60 347.68 L204.31 347.98 L205.03 348.28 L205.74 348.58 L206.46 348.87 L207.17 349.16 L207.89 349.45 L208.61 349.73 L209.33 350.02 L210.05 350.30 L210.77 350.57 L211.49 350.85 L212.22 351.12 L212.94 351.39 L213.66 351.66 L214.39 351.93 L215.12 352.19 L215.85 352.46 L216.57 352.72 L217.30 352.97 L218.03 353.23 L218.76 353.48 L219.50 353.73 L220.23 353.98 L220.96 354.23 L221.70 354.47 L222.43 354.72 L223.17 354.96 L223.90 355.20 L224.64 355.43 L225.38 355.67 L226.12 355.90 L226.86 356.13 L227.60 356.36 L228.34 356.59 L229.08 356.81 L229.82 357.04 L230.56 357.26 L231.30 357.48 L232.05 357.70 L232.79 357.91 L233.54 358.13 L234.28 358.34 L235.03 358.55 L235.77 358.76 L236.52 358.97 L237.27 359.18 L238.02 359.38 L238.76 359.58 L239.51 359.79 L240.26 359.99 L241.01 360.19 L241.76 360.38 L242.51 360.58 L243.26 360.77 L244.01 360.97 L244.76 361.16 L245.52 361.35 L246.27 361.54 L247.02 361.72 L247.77 361.91 L248.53 362.09 L249.28 362.28 L250.04 362.46 L250.79 362.64 L251.54 362.82 L252.30 363.00 L253.05 363.17 L253.81 363.35 L254.56 363.53 L255.32 363.70 L256.08 363.87 L256.83 364.04 L257.59 364.22 L258.34 364.38 L259.10 364.55 L259.86 364.72 L260.61 364.89 L261.37 365.05 L262.13 365.22 L262.89 365.38 L263.64 365.54 L264.40 365.70 L265.16 365.86 L265.92 366.02 L266.68 366.18 L267.43 366.34 L268.19 366.49 L268.95 366.65 L269.71 366.80 L270.47 366.95 L271.23 367.11 L271.99 367.26 L272.75 367.41 L273.51 367.56 L274.27 367.70 L275.03 367.85 L275.79 368.00 L276.55 368.14 L277.31 368.29 L278.07 368.43 L278.83 368.57 L279.59 368.71 L280.35 368.85 L281.12 368.99 L281.88 369.13 L282.64 369.27 L283.40 369.41 L284.16 369.54 L284.93 369.68 L285.69 369.81 L286.45 369.94 L287.21 370.08 L287.98 370.21 L288.74 370.34 L289.50 370.47 L290.27 370.60 L291.03 370.72 L291.79 370.85 L292.56 370.98 L293.32 371.10 L294.09 371.23 L294.85 371.35 L295.61 371.47 L296.38 371.59 L297.14 371.71 L297.91 371.83 L298.67 371.95 L299.44 372.07 L300.20 372.19 L300.97 372.31 L301.73 372.42 L302.50 372.54 L303.27 372.65 L304.03 372.77 L304.80 372.88 L305.56 372.99 L306.33 373.10 L307.10 373.21 L307.86 373.32 L308.63 373.43 L309.40 373.54 L310.16 373.65 L310.93 373.75 L311.70 373.86 L312.46 373.97 L313.23 374.07 L314.00 374.17 L314.76 374.28 L315.53 374.38 L316.30 374.48 L317.07 374.58 L317.84 374.68 L318.60 374.78 L319.37 374.88 L320.14 374.98 L320.91 375.08 L321.68 375.17 L322.45 375.27 L323.21 375.36 L323.98 375.46 L324.75 375.55 L325.52 375.65 L326.29 375.74 L327.06 375.83 L327.83 375.92 L328.60 376.02 L329.37 376.11 L330.14 376.20 L330.91 376.28 L331.68 376.37 L332.45 376.46 L333.22 376.55 L333.98 376.63 L334.75 376.72 L335.53 376.81 L336.30 376.89 L337.07 376.98 L337.84 377.06 L338.61 377.14 L339.38 377.22 L340.15 377.31 L340.92 377.39 L341.69 377.47 L342.46 377.55 L343.23 377.63 L344.00 377.71 L344.77 377.79 L345.54 377.87 L346.31 377.94 L347.09 378.02 L347.86 378.10 L348.63 378.17 L349.40 378.25 L350.17 378.32 L350.94 378.40 L351.71 378.47 L352.49 378.55 L353.26 378.62 L354.03 378.69 L354.80 378.76 L355.57 378.84 L356.34 378.91 L357.12 378.98 L357.89 379.05 L358.66 379.12 L359.43 379.19 L360.21 379.26 L360.98 379.33 L361.75 379.39 L362.52 379.46 L363.29 379.53 L364.07 379.60 L364.84 379.66 L365.61 379.73 L366.38 379.80 L367.16 379.86 L367.93 379.93 L368.70 379.99 L369.48 380.06 L370.25 380.12 L371.02 380.18 L371.79 380.25 L372.57 380.31 L373.34 380.37 L374.11 380.43 L374.88 380.49 L375.66 380.56 L376.43 380.62 L377.20 380.68 L377.98 380.74 L378.75 380.80 L379.52 380.86 L380.30 380.92 L381.07 380.98 L381.84 381.04 L382.62 381.09 L383.39 381.15 L384.16 381.21 L384.93 381.27 L385.71 381.33 L386.48 381.38 L387.25 381.44 L388.03 381.50 L388.80 381.55 L389.57 381.61 L390.35 381.66 L391.12 381.72 L391.89 381.78 L392.67 381.83 L393.44 381.89 L394.21 381.94 L394.99 382.00 L395.76 382.05 L396.53 382.10 L397.31 382.16 L398.08 382.21 L398.85 382.26 L399.63 382.32 L400.40 382.37 L401.17 382.42 L401.95 382.48 L402.72 382.53 L403.49 382.58 L404.27 382.63 L405.04 382.69 L405.81 382.74 L406.59 382.79 L407.36 382.84 L408.13 382.89 L408.91 382.94 L409.68 383.00 L410.45 383.05 L411.23 383.10 L412.00 383.15 L412.77 383.20 L413.54 383.25 L414.32 383.30 L415.09 383.35 L415.86 383.40 L416.64 383.45 L417.41 383.50 L418.18 383.55 L418.95 383.60 L419.73 383.65 L420.50 383.70 L421.27 383.75 L422.05 383.80 L422.82 383.85 L423.59 383.90 L424.36 383.95 L425.14 384.00 L425.91 384.05 L426.68 384.10 L427.45 384.15 L428.23 384.20 L429.00 384.25 L429.77 384.30 L430.54 384.35 L431.31 384.40 L432.09 384.45 L432.86 384.50 L433.63 384.55 L434.40 384.60 L435.17 384.65 L435.95 384.70 L436.72 384.75 L437.49 384.80 L438.26 384.85 L439.03 384.90 L439.80 384.95 L440.58 385.00 L441.35 385.05 L442.12 385.10 L442.89 385.15 L443.66 385.20 L444.43 385.25 L445.20 385.30 L445.97 385.35" stroke="#ff0000" stroke-dasharray="14.6 1.2 0.8 1.2" stroke-dashoffset="0.0"/>
<path d="M70.30 407.90 L127.62 407.92" stroke="#ff00ff" stroke-dasharray="8.4 1.2 1.4 1.2" stroke-dashoffset="0.0"/>
<path d="M128.91 407.86 L130.13 407.72 L131.28 407.52 L132.37 407.26 L133.40 406.94 L134.36 406.56 L135.26 406.12 L136.11 405.64 L136.91 405.10 L137.65 404.52 L138.34 403.89 L138.99 403.21 L139.59 402.50 L140.16 401.75 L140.68 400.96 L141.16 400.15 L141.61 399.30 L142.03 398.42 L142.42 397.52 L142.78 396.60 L143.12 395.65 L143.43 394.69 L143.72 393.71 L143.99 392.72 L144.25 391.72 L144.50 390.72 L144.73 389.70 L144.95 388.69 L145.17 387.67 L145.38 386.66 L145.59 385.64 L145.79 384.63 L145.99 383.62 L146.19 382.60 L146.37 381.59 L146.56 380.58 L146.74 379.57 L146.91 378.56 L147.08 377.55 L147.25 376.54 L147.41 375.54 L147.57 374.53 L147.73 373.52 L147.88 372.51 L148.03 371.51 L148.17 370.50 L148.31 369.50 L148.45 368.49 L148.59 367.49 L148.72 366.49 L148.85 365.48 L148.98 364.48 L149.11 363.48 L149.23 362.47 L149.35 361.47 L149.47 360.47 L149.59 359.47 L149.70 358.47 L149.82 357.46 L149.93 356.46 L150.04 355.46 L150.15 354.46 L150.25 353.46 L150.36 352.46 L150.47 351.46 L150.57 350.46 L150.68 349.46 L150.78 348.46 L150.88 347.46 L150.99 346.46 L151.09 345.45 L151.19 344.45 L151.29 343.45 L151.40 342.45 L151.50 341.45 L151.60 340.45 L151.71 339.45 L151.81 338.45 L151.92 337.45 L152.03 336.44 L152.13 335.44 L152.24 334.44 L152.35 333.44 L152.46 332.43 L152.58 331.43 L152.69 330.43 L152.80 329.42 L152.92 328.42 L153.04 327.42 L153.15 326.41 L153.27 325.41 L153.39 324.40 L153.51 323.40 L153.63 322.39 L153.76 321.39 L153.88 320.38 L154.00 319.38 L154.13 318.37 L154.26 317.37 L154.38 316.36 L154.51 315.35 L154.64 314.35 L154.77 313.34 L154.89 312.34 L155.02 311.33 L155.15 310.32 L155.29 309.32 L155.42 308.31 L155.55 307.30 L155.68 306.30 L155.81 305.29 L155.95 304.28 L156.08 303.28 L156.21 302.27 L156.35 301.26 L156.48 300.26 L156.62 299.25 L156.75 298.24 L156.89 297.24 L157.02 296.23 L157.16 295.23 L157.29 294.22 L157.43 293.21 L157.56 292.21 L157.70 291.20 L157.83 290.19 L157.97 289.19 L158.10 288.18 L158.24 287.18 L158.37 286.17 L158.51 285.17 L158.64 284.16 L158.78 283.16 L158.91 282.15 L159.04 281.15 L159.18 280.14 L159.31 279.14 L159.44 278.14 L159.57 277.13 L159.70 276.13 L159.84 275.12 L159.97 274.12 L160.10 273.12 L160.23 272.12 L160.35 271.11 L160.48 270.11 L160.61 269.11 L160.74 268.11 L160.86 267.11 L160.99 266.11 L161.11 265.11 L161.24 264.11 L161.36 263.11 L161.48 262.11 L161.60 261.11 L161.72 260.11 L161.84 259.11 L161.96 258.11 L162.08 257.12 L162.19 256.12 L162.31 255.12 L162.44 254.13 L162.56 253.13 L162.69 252.13 L162.83 251.14 L162.98 250.14 L163.14 249.14 L163.31 248.14 L163.50 247.15 L163.69 246.15 L163.91 245.15 L164.14 244.15 L164.39 243.15 L164.66 242.15 L164.95 241.15 L165.26 240.15 L165.60 239.15 L165.97 238.14 L166.36 237.14 L166.78 236.14 L167.23 235.15 L167.71 234.20 L168.23 233.33 L168.79 232.55 L169.39 231.89 L170.03 231.38 L170.72 231.04 L171.45 230.91" stroke="#ff00ff" stroke-dasharray="11 2.6 2.3 2.6" stroke-dashoffset="0.0"/>
<path d="M172.24 230.99 L173.05 231.29 L173.87 231.75 L174.66 232.35 L175.40 233.05 L176.06 233.83 L176.67 234.68 L177.22 235.58 L177.73 236.52 L178.20 237.50 L178.64 238.50 L179.07 239.51 L179.48 240.53 L179.90 241.54 L180.32 242.53 L180.75 243.50 L181.18 244.46 L181.62 245.41 L182.06 246.34 L182.50 247.27 L182.95 248.18 L183.39 249.09 L183.84 249.99 L184.29 250.89 L184.73 251.79 L185.18 252.69 L185.62 253.58 L186.06 254.48 L186.49 255.38 L186.93 256.28 L187.37 257.17 L187.80 258.07 L188.23 258.97 L188.66 259.86 L189.10 260.76 L189.53 261.66 L189.96 262.55 L190.40 263.45 L190.84 264.34 L191.27 265.24 L191.71 266.13 L192.15 267.02 L192.60 267.92 L193.04 268.81 L193.49 269.70 L193.95 270.59 L194.40 271.48 L194.86 272.36 L195.33 273.25 L195.80 274.13 L196.27 275.01 L196.75 275.90 L197.23 276.77 L197.72 277.65 L198.22 278.53 L198.72 279.40 L199.23 280.28 L199.75 281.15 L200.27 282.01 L200.79 282.88 L201.32 283.74 L201.86 284.61 L202.40 285.46 L202.95 286.32 L203.51 287.18 L204.07 288.03 L204.63 288.88 L205.20 289.72 L205.78 290.57 L206.36 291.41 L206.95 292.24 L207.54 293.08 L208.14 293.91 L208.74 294.74 L209.35 295.56 L209.96 296.38 L210.58 297.20 L211.21 298.01 L211.84 298.82 L212.47 299.63 L213.11 300.43 L213.76 301.23 L214.41 302.02" stroke="#ff00ff" stroke-dasharray="8 2.4 1.7 2.4" stroke-dashoffset="4.8"/>
<path d="M215.06 302.81 L215.72 303.60 L216.38 304.38 L217.05 305.16 L217.73 305.93 L218.40 306.70 L219.09 307.47 L219.78 308.23 L220.47 308.98 L221.17 309.73 L221.87 310.48 L222.57 311.22 L223.28 311.95 L224.00 312.68 L224.72 313.41 L225.44 314.13 L226.17 314.84 L226.91 315.55 L227.64 316.26 L228.38 316.95 L229.13 317.65 L229.88 318.33 L230.63 319.01 L231.39 319.69 L232.15 320.36 L232.92 321.02 L233.69 321.68 L234.46 322.33 L235.24 322.97 L236.02 323.61 L236.81 324.24 L237.60 324.87 L238.39 325.49 L239.19 326.10 L239.99 326.71 L240.80 327.31 L241.61 327.91 L242.42 328.50 L243.23 329.08 L244.05 329.66 L244.87 330.23 L245.70 330.80 L246.53 331.37 L247.36 331.92 L248.20 332.47 L249.04 333.02 L249.88 333.56" stroke="#ff00ff" stroke-dasharray="6.6 2.1 1.3 2.1" stroke-dashoffset="0.0"/>
<path d="M250.73 334.09 L251.58 334.62 L252.43 335.15 L253.29 335.67 L254.14 336.18 L255.01 336.69 L255.87 337.19 L256.74 337.69 L257.61 338.18 L258.49 338.67 L259.36 339.16 L260.24 339.63 L261.12 340.11 L262.01 340.58 L262.90 341.04 L263.79 341.50 L264.68 341.95 L265.58 342.40 L266.48 342.85 L267.38 343.29 L268.29 343.72 L269.19 344.15 L270.10 344.58 L271.01 345.00 L271.93 345.42 L272.84 345.83 L273.76 346.24 L274.68 346.64 L275.61 347.04 L276.53 347.44 L277.46 347.83 L278.39 348.22 L279.33 348.60 L280.26 348.98 L281.20 349.35 L282.14 349.72 L283.08 350.09 L284.02 350.45 L284.96 350.81 L285.91 351.17 L286.86 351.52 L287.81 351.87 L288.76 352.21 L289.72 352.55 L290.67 352.89 L291.63 353.22 L292.59 353.55 L293.55 353.87 L294.51 354.19 L295.47 354.51 L296.44 354.83 L297.41 355.14 L298.37 355.45 L299.34 355.75 L300.32 356.05 L301.29 356.35 L302.26 356.65 L303.24 356.94 L304.21 357.23 L305.19 357.51 L306.17 357.80 L307.15 358.08 L308.13 358.35 L309.11 358.63 L310.09 358.90 L311.08 359.17 L312.06 359.43 L313.05 359.69 L314.04 359.95 L315.02 360.21 L316.01 360.46 L317.00 360.71 L317.99 360.96 L318.98 361.21 L319.98 361.45 L320.97 361.70 L321.96 361.93 L322.95 362.17 L323.95 362.41 L324.94 362.64 L325.94 362.87 L326.93 363.10 L327.93 363.32 L328.93 363.54 L329.92 363.76 L330.92 363.98 L331.92 364.20 L332.91 364.41 L333.91 364.63 L334.91 364.84 L335.91 365.05 L336.90 365.26 L337.90 365.46 L338.90 365.66 L339.90 365.87 L340.90 366.07 L341.90 366.26 L342.89 366.46 L343.89 366.66 L344.89 366.85 L345.89 367.04 L346.88 367.23 L347.88 367.42 L348.88 367.61 L349.87 367.80 L350.87 367.98 L351.87 368.17 L352.86 368.35 L353.86 368.53 L354.85 368.71 L355.85 368.89 L356.85 369.06 L357.84 369.24 L358.84 369.41 L359.83 369.59 L360.83 369.76 L361.82 369.93 L362.82 370.10 L363.81 370.26 L364.81 370.43 L365.80 370.59 L366.80 370.76 L367.79 370.92 L368.78 371.08 L369.78 371.24 L370.77 371.40 L371.77 371.56 L372.76 371.71 L373.76 371.87 L374.75 372.02 L375.75 372.17 L376.74 372.32 L377.74 372.47 L378.73 372.62 L379.73 372.77 L380.72 372.92 L381.72 373.06 L382.71 373.21 L383.71 373.35 L384.71 373.49 L385.70 373.64 L386.70 373.78 L387.69 373.91 L388.69 374.05 L389.69 374.19 L390.68 374.33 L391.68 374.46 L392.68 374.60 L393.67 374.73 L394.67 374.86 L395.67 374.99 L396.67 375.12 L397.66 375.25 L398.66 375.38 L399.66 375.51 L400.66 375.63 L401.66 375.76 L402.66 375.88 L403.66 376.01 L404.66 376.13 L405.66 376.25 L406.66 376.38 L407.66 376.50 L408.66 376.62 L409.66 376.73 L410.67 376.85 L411.67 376.97 L412.67 377.09 L413.67 377.20 L414.68 377.32 L415.68 377.43 L416.69 377.54 L417.69 377.66 L418.70 377.77 L419.70 377.88 L420.71 377.99 L421.72 378.10 L422.72 378.21 L423.73 378.32 L424.74 378.43 L425.75 378.53 L426.76 378.64 L427.77 378.75 L428.78 378.85 L429.79 378.96 L430.80 379.06 L431.81 379.16 L432.82 379.27 L433.83 379.37 L434.85 379.47 L435.86 379.57 L436.88 379.67 L437.89 379.77 L438.91 379.87 L439.92 379.97 L440.94 380.07 L441.96 380.17 L442.98 380.27 L444.00 380.37 L445.02 380.46 L446.04 380.56" stroke="#ff00ff" stroke-dasharray="5.6 1.9 1.2 1.9" stroke-dashoffset="0.0"/>
</g>
<rect x="51.40" y="25.60" width="394.60" height="395.00" fill="none" stroke="#161616" stroke-width="1.25"/>
<path d="M51.40 420.60V410.40M51.40 25.60V35.80M71.13 420.60V415.40M71.13 25.60V30.80M90.86 420.60V415.40M90.86 25.60V30.80M110.59 420.60V415.40M110.59 25.60V30.80M130.32 420.60V415.40M130.32 25.60V30.80M150.05 420.60V410.40M150.05 25.60V35.80M169.78 420.60V415.40M169.78 25.60V30.80M189.51 420.60V415.40M189.51 25.60V30.80M209.24 420.60V415.40M209.24 25.60V30.80M228.97 420.60V415.40M228.97 25.60V30.80M248.70 420.60V410.40M248.70 25.60V35.80M268.43 420.60V415.40M268.43 25.60V30.80M288.16 420.60V415.40M288.16 25.60V30.80M307.89 420.60V415.40M307.89 25.60V30.80M327.62 420.60V415.40M327.62 25.60V30.80M347.35 420.60V410.40M347.35 25.60V35.80M367.08 420.60V415.40M367.08 25.60V30.80M386.81 420.60V415.40M386.81 25.60V30.80M406.54 420.60V415.40M406.54 25.60V30.80M426.27 420.60V415.40M426.27 25.60V30.80M446.00 420.60V410.40M446.00 25.60V35.80M51.40 407.90H61.60M446.00 407.90H435.80M51.40 382.41H56.60M446.00 382.41H440.80M51.40 356.93H56.60M446.00 356.93H440.80M51.40 331.44H56.60M446.00 331.44H440.80M51.40 305.95H56.60M446.00 305.95H440.80M51.40 280.47H61.60M446.00 280.47H435.80M51.40 254.98H56.60M446.00 254.98H440.80M51.40 229.49H56.60M446.00 229.49H440.80M51.40 204.01H56.60M446.00 204.01H440.80M51.40 178.52H56.60M446.00 178.52H440.80M51.40 153.03H61.60M446.00 153.03H435.80M51.40 127.55H56.60M446.00 127.55H440.80M51.40 102.06H56.60M446.00 102.06H440.80M51.40 76.57H56.60M446.00 76.57H440.80M51.40 51.09H56.60M446.00 51.09H440.80M51.40 25.60H61.60M446.00 25.60H435.80" stroke="#000" stroke-width="1.10" fill="none"/>
<g font-family="'Liberation Serif', serif">
<path d="M8.30 26.30H17.20" stroke="#000" stroke-width="1.15" fill="none"/>
<text transform="translate(18.68 31.20) scale(1.110 1.000)" font-size="17.00" fill="#000" stroke="#000" stroke-width="0.15">0</text>
<text transform="translate(28.86 31.20) scale(0.747 1.000)" font-size="17.00" fill="#000" stroke="#000" stroke-width="0.15">.</text>
<text transform="translate(32.05 31.20) scale(1.205 1.000)" font-size="17.00" fill="#000" stroke="#000" stroke-width="0.15">7</text>
<path d="M8.30 153.73H17.20" stroke="#000" stroke-width="1.15" fill="none"/>
<text transform="translate(18.68 158.63) scale(1.110 1.000)" font-size="17.00" fill="#000" stroke="#000" stroke-width="0.15">0</text>
<text transform="translate(28.86 158.63) scale(0.747 1.000)" font-size="17.00" fill="#000" stroke="#000" stroke-width="0.15">.</text>
<text transform="translate(32.65 158.63) scale(1.152 1.000)" font-size="17.00" fill="#000" stroke="#000" stroke-width="0.15">8</text>
<path d="M8.30 281.17H17.20" stroke="#000" stroke-width="1.15" fill="none"/>
<text transform="translate(18.68 286.07) scale(1.110 1.000)" font-size="17.00" fill="#000" stroke="#000" stroke-width="0.15">0</text>
<text transform="translate(28.86 286.07) scale(0.747 1.000)" font-size="17.00" fill="#000" stroke="#000" stroke-width="0.15">.</text>
<text transform="translate(32.77 286.07) scale(1.144 1.000)" font-size="17.00" fill="#000" stroke="#000" stroke-width="0.15">9</text>
<path d="M22.70 408.40H31.60" stroke="#000" stroke-width="1.15" fill="none"/>
<text transform="translate(34.43 413.40) scale(0.852 1.000)" font-size="17.00" fill="#000" stroke="#000" stroke-width="0.15">1</text>
<path d="M37.40 434.80H46.30" stroke="#000" stroke-width="1.15" fill="none"/>
<text transform="translate(49.38 439.60) scale(0.819 1.000)" font-size="17.00" fill="#000" stroke="#000" stroke-width="0.15">1</text>
<text transform="translate(57.25 439.60) scale(1.152 1.000)" font-size="17.00" fill="#000" stroke="#000" stroke-width="0.15">0</text>
<text transform="translate(145.56 439.60) scale(1.138 1.000)" font-size="17.00" fill="#000" stroke="#000" stroke-width="0.15">0</text>
<text transform="translate(240.33 439.60) scale(0.852 1.000)" font-size="17.00" fill="#000" stroke="#000" stroke-width="0.15">1</text>
<text transform="translate(248.45 439.60) scale(1.152 1.000)" font-size="17.00" fill="#000" stroke="#000" stroke-width="0.15">0</text>
<text transform="translate(337.97 439.60) scale(1.115 1.000)" font-size="17.00" fill="#000" stroke="#000" stroke-width="0.15">2</text>
<text transform="translate(347.15 439.60) scale(1.152 1.000)" font-size="17.00" fill="#000" stroke="#000" stroke-width="0.15">0</text>
<text transform="translate(436.62 439.60) scale(1.082 1.000)" font-size="17.00" fill="#000" stroke="#000" stroke-width="0.15">3</text>
<text transform="translate(446.17 439.60) scale(1.124 1.000)" font-size="17.00" fill="#000" stroke="#000" stroke-width="0.15">0</text>
<text transform="translate(233.03 458.60) scale(1.077 1.000)" font-size="17.00" fill="#000" stroke="#000" stroke-width="0.15">ln</text>
<text transform="translate(255.18 458.60) scale(1.206 1.000)" font-size="17.00" fill="#000" stroke="#000" stroke-width="0.15">a</text>
<text transform="translate(9.1 228.71) rotate(-90) scale(0.984 1)" font-size="15.6" stroke="#000" stroke-width="0.40">w</text>
<text transform="translate(101.28 67.80) scale(0.868 1.000)" font-size="16.60" fill="#000" stroke="#000" stroke-width="0.40">DBI</text>
<text transform="translate(135.36 67.80) scale(0.732 1.000)" font-size="16.60" fill="#000" stroke="#000" stroke-width="0.40">V</text>
<text transform="translate(144.17 69.00) scale(1.055 1.000)" font-size="18.00" fill="#000" stroke="#000" stroke-width="0.50">~</text>
<g fill="none" stroke="#000" stroke-width="1.20" stroke-linecap="round"><ellipse cx="160.20" cy="63.95" rx="3.7" ry="3.35" transform="rotate(-12 160.20 63.95)"/><path d="M161.90 58.10L158.20 70.50"/></g>
<text transform="translate(166.49 67.80) scale(0.809 1.000)" font-size="16.60" fill="#000" stroke="#000" stroke-width="0.15">,</text>
<text transform="translate(178.36 67.80) scale(0.805 1.000)" font-size="16.60" fill="#000" stroke="#000" stroke-width="0.40">T</text>
<text transform="translate(186.95 69.00) scale(1.090 1.000)" font-size="18.00" fill="#000" stroke="#000" stroke-width="0.50">~</text>
<g fill="none" stroke="#000" stroke-width="1.20" stroke-linecap="round"><ellipse cx="201.90" cy="63.95" rx="3.7" ry="3.35" transform="rotate(-12 201.90 63.95)"/><path d="M203.60 58.10L199.90 70.50"/></g>
<text transform="translate(207.76 64.10) scale(1.393 1.000)" font-size="8.80" fill="#000" stroke="#000" stroke-width="0.15">4</text>
<text transform="translate(215.49 67.50) scale(0.809 1.000)" font-size="16.60" fill="#000" stroke="#000" stroke-width="0.15">,</text>
<text transform="translate(226.82 67.80) scale(1.388 1.000)" font-size="16.10" fill="#000" font-style="italic">μ</text>
<text transform="translate(237.35 63.10) scale(1.417 1.000)" font-size="8.80" fill="#000" stroke="#000" stroke-width="0.15">2</text>
<path d="M245.00 61.50H254.10" stroke="#000" stroke-width="1.00" fill="none"/>
<path d="M245.00 64.40H254.10" stroke="#000" stroke-width="1.00" fill="none"/>
<text transform="translate(256.93 67.80) scale(0.852 1.000)" font-size="17.00" fill="#000" stroke="#000" stroke-width="0.15">1</text>
<text transform="translate(263.85 67.80) scale(1.152 1.000)" font-size="17.00" fill="#000" stroke="#000" stroke-width="0.15">0</text>
<path d="M100.3 95.70H130.2" stroke="#161616" stroke-width="1.15" fill="none"/>
<g fill="none" stroke="#161616" stroke-width="1.20" stroke-linecap="round"><ellipse cx="139.40" cy="94.65" rx="3.7" ry="3.35" transform="rotate(-12 139.40 94.65)"/><path d="M141.10 88.80L137.40 101.20"/></g>
<text transform="translate(144.04 103.70) scale(1.089 1.000)" font-size="11.20" fill="#161616" stroke="#161616" stroke-width="0.15">i</text>
<path d="M149.10 92.70H158.00" stroke="#161616" stroke-width="1.00" fill="none"/>
<path d="M149.10 95.60H158.00" stroke="#161616" stroke-width="1.00" fill="none"/>
<text transform="translate(160.43 99.30) scale(0.852 1.000)" font-size="17.00" fill="#161616" stroke="#161616" stroke-width="0.15">1</text>
<path d="M100.3 114.84H130.2" stroke="#000" stroke-width="1.15" stroke-dasharray="1.2 2.37" fill="none"/>
<g fill="none" stroke="#000" stroke-width="1.20" stroke-linecap="round"><ellipse cx="139.40" cy="114.25" rx="3.7" ry="3.35" transform="rotate(-12 139.40 114.25)"/><path d="M141.10 108.40L137.40 120.80"/></g>
<text transform="translate(144.04 123.30) scale(1.089 1.000)" font-size="11.20" fill="#000" stroke="#000" stroke-width="0.15">i</text>
<path d="M149.10 112.30H158.00" stroke="#000" stroke-width="1.00" fill="none"/>
<path d="M149.10 115.20H158.00" stroke="#000" stroke-width="1.00" fill="none"/>
<text transform="translate(160.43 118.90) scale(0.852 1.000)" font-size="17.00" fill="#000" stroke="#000" stroke-width="0.15">1</text>
<text transform="translate(177.70 118.30) scale(0.811 1.000)" font-size="16.80" fill="#000" stroke="#000" stroke-width="0.15">(</text>
<path fill="none" stroke="#000" stroke-width="1.10" stroke-linecap="round" stroke-linejoin="round" d="M192.10 111.90L187.10 122.20M184.20 114.10C184.60 112.70 185.70 111.80 186.60 112.70C187.50 113.70 188.30 116.30 188.90 118.10"/>
<text transform="translate(192.96 123.30) scale(1.014 1.000)" font-size="11.20" fill="#000" stroke="#000" stroke-width="0.15">i</text>
<path d="M198.00 112.30H206.60" stroke="#000" stroke-width="1.00" fill="none"/>
<path d="M198.00 115.20H206.60" stroke="#000" stroke-width="1.00" fill="none"/>
<text transform="translate(209.83 118.90) scale(0.718 1.000)" font-size="17.00" fill="#000" stroke="#000" stroke-width="0.15">1</text>
<text transform="translate(216.75 118.90) scale(1.152 1.000)" font-size="17.00" fill="#000" stroke="#000" stroke-width="0.15">0</text>
<text transform="translate(226.64 118.90) scale(1.180 1.000)" font-size="17.00" fill="#000" stroke="#000" stroke-width="0.15">0</text>
<text transform="translate(237.56 118.30) scale(0.811 1.000)" font-size="16.80" fill="#000" stroke="#000" stroke-width="0.15">)</text>
<path d="M100.3 133.98H107.1M111.3 133.98H118.1M122.3 133.98H129.1" stroke="#0000ff" stroke-width="1.15" fill="none"/>
<g fill="none" stroke="#0000ff" stroke-width="1.20" stroke-linecap="round"><ellipse cx="139.40" cy="132.55" rx="3.7" ry="3.35" transform="rotate(-12 139.40 132.55)"/><path d="M141.10 126.70L137.40 139.10"/></g>
<text transform="translate(144.04 141.60) scale(1.089 1.000)" font-size="11.20" fill="#0000ff" stroke="#0000ff" stroke-width="0.15">i</text>
<path d="M149.10 130.60H158.00" stroke="#0000ff" stroke-width="1.00" fill="none"/>
<path d="M149.10 133.50H158.00" stroke="#0000ff" stroke-width="1.00" fill="none"/>
<text transform="translate(159.92 137.20) scale(1.055 1.000)" font-size="17.00" fill="#0000ff" stroke="#0000ff" stroke-width="0.15">0</text>
<text transform="translate(170.05 137.20) scale(0.846 1.000)" font-size="17.00" fill="#0000ff" stroke="#0000ff" stroke-width="0.15">.</text>
<text transform="translate(173.69 137.20) scale(1.124 1.000)" font-size="17.00" fill="#0000ff" stroke="#0000ff" stroke-width="0.15">5</text>
<path d="M100.3 153.12H110.3M111.1 153.12H111.8M112.8 153.12H124.9M126 153.12H126.8M128.1 153.12H130.2" stroke="#ff0000" stroke-width="1.15" fill="none"/>
<g fill="none" stroke="#ff0000" stroke-width="1.20" stroke-linecap="round"><ellipse cx="139.40" cy="151.65" rx="3.7" ry="3.35" transform="rotate(-12 139.40 151.65)"/><path d="M141.10 145.80L137.40 158.20"/></g>
<text transform="translate(144.04 160.70) scale(1.089 1.000)" font-size="11.20" fill="#ff0000" stroke="#ff0000" stroke-width="0.15">i</text>
<path d="M149.10 149.70H158.00" stroke="#ff0000" stroke-width="1.00" fill="none"/>
<path d="M149.10 152.60H158.00" stroke="#ff0000" stroke-width="1.00" fill="none"/>
<text transform="translate(159.92 156.30) scale(1.055 1.000)" font-size="17.00" fill="#ff0000" stroke="#ff0000" stroke-width="0.15">0</text>
<text transform="translate(170.05 156.30) scale(0.846 1.000)" font-size="17.00" fill="#ff0000" stroke="#ff0000" stroke-width="0.15">.</text>
<text transform="translate(173.96 156.30) scale(1.130 1.000)" font-size="17.00" fill="#ff0000" stroke="#ff0000" stroke-width="0.15">2</text>
<path d="M100.5 172.26H101.8M103.9 172.26H110.7M112.8 172.26H114.1M116.1 172.26H122.9M124.9 172.26H126.2M128.1 172.26H130.2" stroke="#ff00ff" stroke-width="1.15" fill="none"/>
<g fill="none" stroke="#ff00ff" stroke-width="1.20" stroke-linecap="round"><ellipse cx="139.40" cy="170.85" rx="3.7" ry="3.35" transform="rotate(-12 139.40 170.85)"/><path d="M141.10 165.00L137.40 177.40"/></g>
<text transform="translate(144.04 179.90) scale(1.089 1.000)" font-size="11.20" fill="#ff00ff" stroke="#ff00ff" stroke-width="0.15">i</text>
<path d="M149.10 168.90H158.00" stroke="#ff00ff" stroke-width="1.00" fill="none"/>
<path d="M149.10 171.80H158.00" stroke="#ff00ff" stroke-width="1.00" fill="none"/>
<text transform="translate(159.63 175.50) scale(1.159 1.000)" font-size="17.00" fill="#ff00ff" stroke="#ff00ff" stroke-width="0.15">2</text>
<path d="M100.3 191.40H116.4M120.9 191.40H130.2" stroke="#00ffff" stroke-width="1.15" fill="none"/>
<g fill="none" stroke="#00ffff" stroke-width="1.20" stroke-linecap="round"><ellipse cx="139.40" cy="190.05" rx="3.7" ry="3.35" transform="rotate(-12 139.40 190.05)"/><path d="M141.10 184.20L137.40 196.60"/></g>
<text transform="translate(144.04 199.10) scale(1.089 1.000)" font-size="11.20" fill="#00ffff" stroke="#00ffff" stroke-width="0.15">i</text>
<path d="M149.10 188.10H158.00" stroke="#00ffff" stroke-width="1.00" fill="none"/>
<path d="M149.10 191.00H158.00" stroke="#00ffff" stroke-width="1.00" fill="none"/>
<text transform="translate(160.17 194.70) scale(1.000 1.000)" font-size="17.00" fill="#00ffff" stroke="#00ffff" stroke-width="0.15">4</text>
</g>
</svg>
</body></html>
